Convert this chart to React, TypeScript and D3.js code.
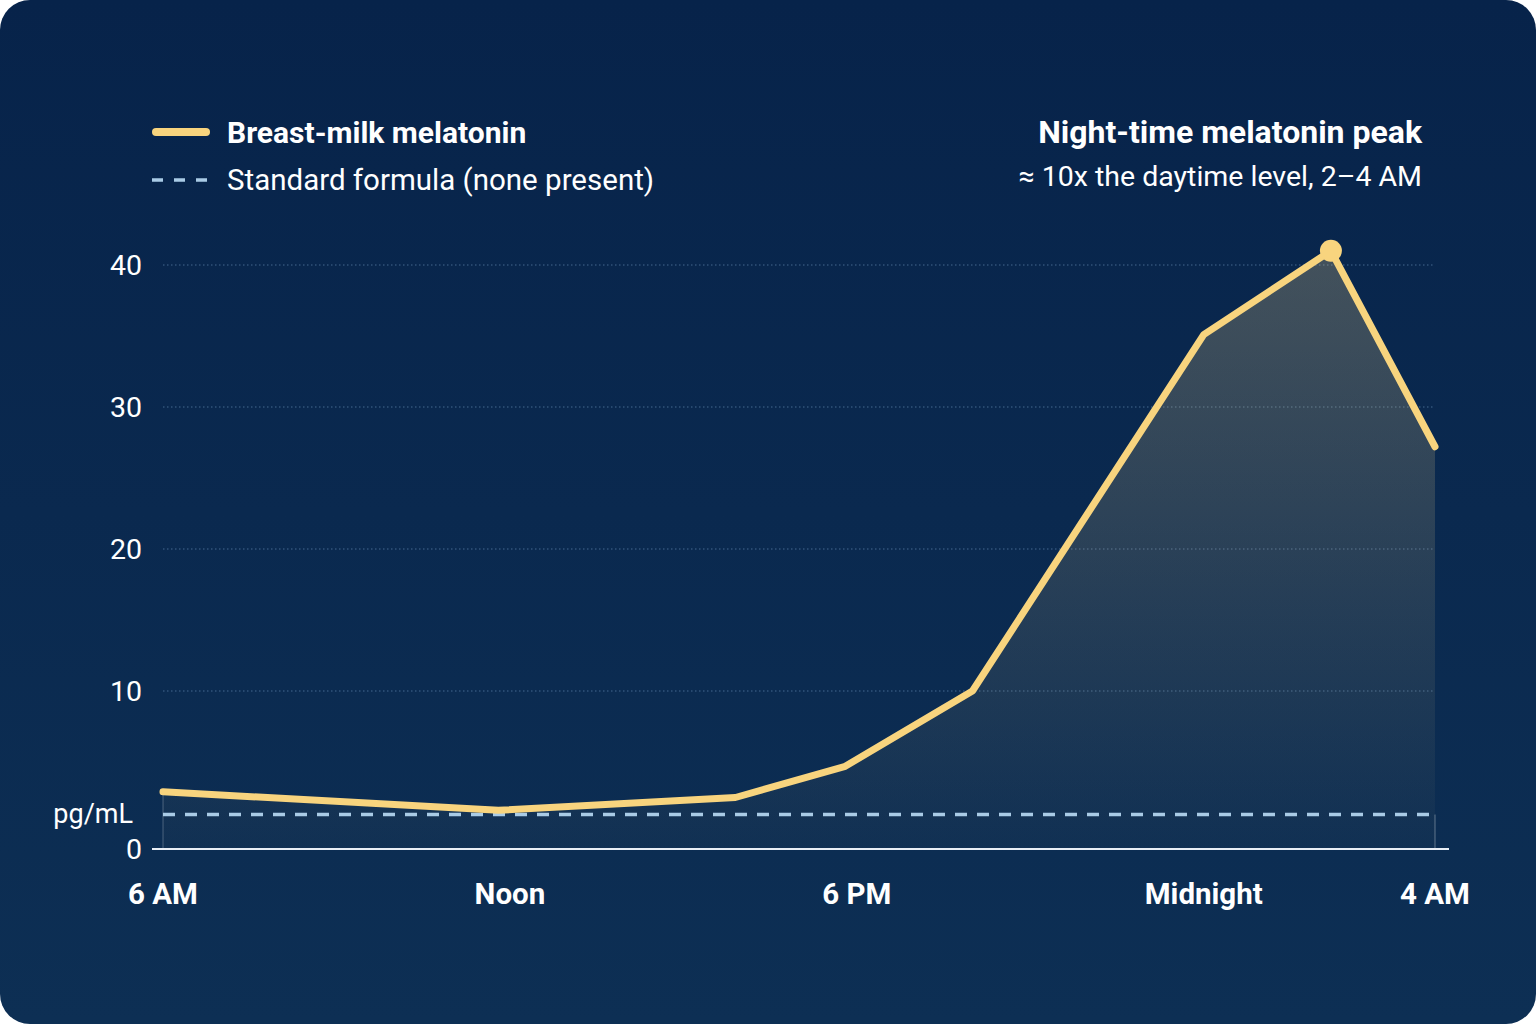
import React from "react";
import * as d3 from "d3";

// sample times, in hours after 6 AM
const sampleHours = [0, 5.8, 9.9, 11.8, 14, 18, 20.2, 22];
const melatonin = [2.9, 1.6, 2.5, 4.7, 10.0, 35.1, 41.0, 27.2];
const formulaLevel = 1.3;
const peakIndex = 6;

const xTickHours = [0, 6, 12, 18, 22];
const xTickLabels = ["6 AM", "Noon", "6 PM", "Midnight", "4 AM"];
const yTickValues = [10, 20, 30, 40];

const legendLabels = ["Breast-milk melatonin", "Standard formula (none present)"];
const noteTitle = "Night-time melatonin peak";
const noteText = "≈ 10x the daytime level, 2–4 AM";
const unitLabel = "pg/mL";

const W = 1536;
const H = 1024;
const FONT = "Roboto, 'Noto Sans', sans-serif";
const LINE = "#f8d47e";
const DASH = "#a9cbe6";

export default function App() {
  const x = d3.scaleLinear().domain([0, 22]).range([163, 1435]);
  const y = d3.scaleLinear().domain([0, 40]).range([833, 265]);
  const baseY = 849;

  const pts = sampleHours.map((h, i) => [h, melatonin[i]] as [number, number]);
  const line = d3
    .line<[number, number]>()
    .x((d) => x(d[0]))
    .y((d) => y(d[1]));
  const area = d3
    .area<[number, number]>()
    .x((d) => x(d[0]))
    .y0(baseY)
    .y1((d) => y(d[1]));

  const x0 = x(sampleHours[0]);
  const x1 = x(sampleHours[sampleHours.length - 1]);

  return (
    <svg
      width={W}
      height={H}
      viewBox={`0 0 ${W} ${H}`}
      style={{ position: "absolute", left: 0, top: 0, display: "block" }}
      fontFamily={FONT}
    >
      <defs>
        <linearGradient id="bg" x1="0" y1="0" x2="0" y2="1">
          <stop offset="0%" stopColor="#07234a" />
          <stop offset="100%" stopColor="#0d2f54" />
        </linearGradient>
        <linearGradient id="fill" gradientUnits="userSpaceOnUse" x1="0" y1={y(41)} x2="0" y2={baseY}>
          <stop offset="0%" stopColor="#f5d58a" stopOpacity={0.25} />
          <stop offset="100%" stopColor="#f5d58a" stopOpacity={0.02} />
        </linearGradient>
      </defs>
      <rect x={0} y={0} width={W} height={H} fill="#ffffff" />
      <rect x={0} y={0} width={W} height={H} rx={30} ry={30} fill="url(#bg)" />

      {/* gridlines */}
      {yTickValues.map((v) => (
        <g key={v}>
          <line
            x1={x0}
            x2={x1}
            y1={y(v)}
            y2={y(v)}
            stroke="#5578a0"
            strokeWidth={1}
            strokeDasharray="1.5 2.5"
            opacity={0.8}
          />
          <text x={142} y={y(v)} textAnchor="end" dominantBaseline="central" fill="#ffffff" fontSize={28.5}>
            {v}
          </text>
        </g>
      ))}
      <text x={142} y={baseY} textAnchor="end" dominantBaseline="central" fill="#ffffff" fontSize={28.5}>
        0
      </text>
      <text x={133} y={y(formulaLevel) - 1} textAnchor="end" dominantBaseline="central" fill="#ffffff" fontSize={27}>
        {unitLabel}
      </text>

      {/* area */}
      <path d={area(pts) || ""} fill="url(#fill)" />
      <line x1={x0} x2={x0} y1={y(melatonin[0])} y2={baseY} stroke="#ffffff" strokeOpacity={0.25} strokeWidth={1} />
      <line x1={x1} x2={x1} y1={y(formulaLevel)} y2={baseY} stroke="#ffffff" strokeOpacity={0.35} strokeWidth={1} />

      {/* formula dashed line */}
      <line
        x1={x0}
        x2={x1}
        y1={y(formulaLevel)}
        y2={y(formulaLevel)}
        stroke={DASH}
        strokeWidth={3.5}
        strokeDasharray="12 10"
      />

      {/* baseline axis */}
      <line x1={152} x2={1449} y1={baseY} y2={baseY} stroke="#e8eef5" strokeWidth={2} />

      {/* melatonin line */}
      <path
        d={line(pts) || ""}
        fill="none"
        stroke={LINE}
        strokeWidth={7}
        strokeLinejoin="round"
        strokeLinecap="round"
      />
      <circle cx={x(sampleHours[peakIndex])} cy={y(melatonin[peakIndex])} r={11} fill={LINE} />

      {/* x tick labels */}
      {xTickHours.map((h, i) => (
        <text
          key={h}
          x={x(h)}
          y={894}
          textAnchor="middle"
          dominantBaseline="central"
          fill="#ffffff"
          fontSize={29.5}
          fontWeight={700}
        >
          {xTickLabels[i]}
        </text>
      ))}

      {/* legend */}
      <line x1={156} x2={206} y1={132} y2={132} stroke={LINE} strokeWidth={8} strokeLinecap="round" />
      <text x={227} y={132} dominantBaseline="central" fill="#ffffff" fontSize={30} fontWeight={700}>
        {legendLabels[0]}
      </text>
      <line x1={152} x2={208} y1={180} y2={180} stroke={DASH} strokeWidth={3.5} strokeDasharray="11 11" />
      <text x={227} y={180} dominantBaseline="central" fill="#ffffff" fontSize={29.5}>
        {legendLabels[1]}
      </text>

      {/* annotation */}
      <text x={1422} y={132} textAnchor="end" dominantBaseline="central" fill="#ffffff" fontSize={32} fontWeight={700}>
        {noteTitle}
      </text>
      <text x={1422} y={176} textAnchor="end" dominantBaseline="central" fill="#ffffff" fontSize={28.5}>
        {noteText}
      </text>
    </svg>
  );
}
